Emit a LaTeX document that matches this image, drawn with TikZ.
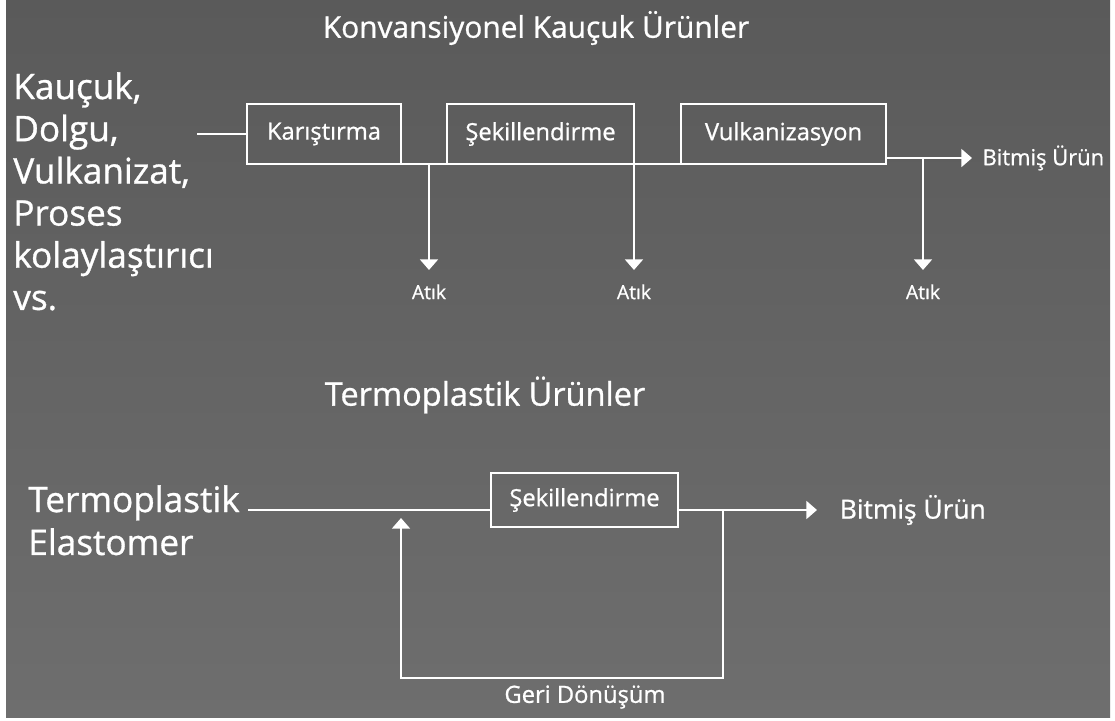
\documentclass[tikz,border=0pt]{standalone}
\usepackage{fontspec}
\setmainfont{Open Sans}[FakeBold=0.9]
\usetikzlibrary{positioning,arrows.meta,calc}
\definecolor{bgtop}{RGB}{90,90,90}
\definecolor{bgbot}{RGB}{110,110,110}

\begin{document}
\begin{tikzpicture}[
    x=0.02cm, y=-0.02cm,
    every node/.style={text=white},
    stage/.style={draw=white, line width=1.5pt, minimum height=1.2cm, inner sep=0pt, outer sep=0pt,
        font=\fontsize{13.5}{16}\selectfont},
    wire/.style={draw=white, line width=1.5pt},
    arr/.style={wire, -{Triangle[length=6pt,width=10pt]}},
    atk/.style={font=\fontsize{11}{13}\selectfont, anchor=north, inner xsep=0pt, inner ysep=8pt},
]

% page and background
\useasboundingbox (0,0) rectangle (1115,720);
\fill[white] (0,0) rectangle (1115,720);
\shade[top color=bgtop, bottom color=bgbot] (6,0) rectangle (1110,717);

% ===== Konvansiyonel Kaucuk =====
\node[font=\fontsize{17}{20}\selectfont] (title1) at (536,28) {Konvansiyonel Kauçuk Ürünler};

\node[font=\fontsize{20}{24}\selectfont, align=left, anchor=north west, inner sep=0pt]
    (inputs) at (13,72) {Kauçuk,\\Dolgu,\\Vulkanizat,\\Proses\\kolaylaştırıcı\\vs.};

\node[stage, minimum width=3.08cm] (kar) at (324,134) {Karıştırma};
\node[stage, minimum width=3.74cm] (sek) at (540.5,134) {Şekillendirme};
\node[stage, minimum width=4.1cm] (vul) at (783.5,134) {Vulkanizasyon};

\coordinate (in1) at (197,134);
\draw[wire] (in1) -- (kar.west);
\draw[wire] (kar.south east) -- (sek.south west);
\draw[wire] (sek.south east) -- (vul.south west);

% waste outputs
\node[atk] (atik1) at (429,270) {Atık};
\node[atk] (atik2) at (sek.south east |- atik1.north) {Atık};
\node[atk] (atik3) at (923,270) {Atık};
\draw[arr] (kar.south east -| atik1) -- (atik1.north);
\draw[arr] (sek.south east) -- (atik2.north);

\coordinate (out1) at ([yshift=3.4pt]vul.south east);
\node[font=\fontsize{12.5}{15}\selectfont, anchor=west, inner xsep=6pt, outer sep=0pt] (bit1) at (972,158) {Bitmiş Ürün};
\draw[arr] (out1) -- (out1 -| bit1.west);
\draw[arr] (out1 -| atik3) -- (atik3.north);

% ===== Termoplastik =====
\node[font=\fontsize{18.5}{22}\selectfont] (title2) at (485,395) {Termoplastik Ürünler};

\node[font=\fontsize{20}{24.4}\selectfont, align=left, anchor=north west, inner sep=0pt]
    (tpe) at (28,485) {Termoplastik\\Elastomer};

\node[stage, minimum width=3.74cm, minimum height=1.08cm] (sekb) at (584.5,500) {Şekillendirme};

\coordinate (in2) at (248,510);
\draw[wire] (in2) -- (in2 -| sekb.west);
\node[font=\fontsize{15}{18}\selectfont, anchor=west, inner xsep=13pt, outer sep=0pt] (bit2) at (817,510) {Bitmiş Ürün};
\draw[arr] (sekb.east |- in2) -- (bit2.west);

% recycling loop
\coordinate (fb) at (723,510);
\coordinate (ret) at (401,518);
\draw[arr] (fb) -- (723,678) -| (ret);
\node[font=\fontsize{13.5}{16}\selectfont] (geri) at (585,697) {Geri Dönüşüm};

\end{tikzpicture}
\end{document}
